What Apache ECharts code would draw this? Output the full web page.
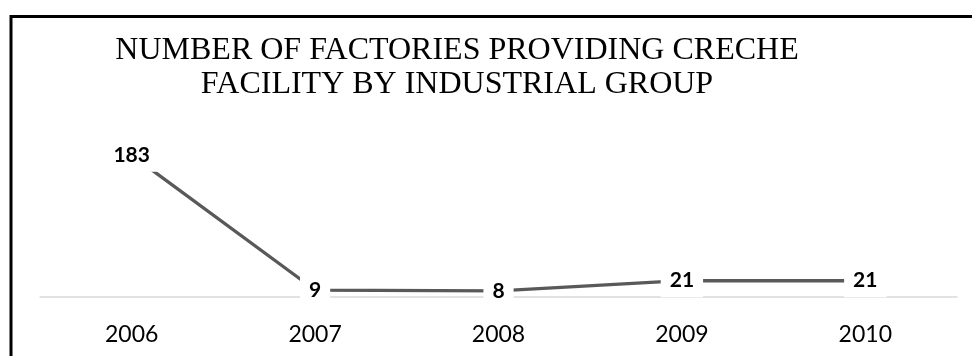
<!DOCTYPE html>
<html>
<head>
<meta charset="utf-8">
<script src="https://cdn.jsdelivr.net/npm/echarts@6/dist/echarts.min.js"></script>
<style>
html,body{margin:0;padding:0;background:#fff;}
#chart{width:972px;height:356px;}
</style>
</head>
<body>
<div id="chart"></div>
<script>
const categories = ['2006', '2007', '2008', '2009', '2010'];
const values = [183, 9, 8, 21, 21];
const titleLines = ['NUMBER OF FACTORIES PROVIDING CRECHE', 'FACILITY BY INDUSTRIAL GROUP'];

const chart = echarts.init(document.getElementById('chart'), null, {renderer: 'canvas'});
chart.setOption({
  animation: false,
  backgroundColor: '#fff',
  graphic: [
    {
      type: 'rect',
      shape: {x: 11, y: 16.5, width: 1000, height: 400},
      style: {fill: 'none', stroke: '#000', lineWidth: 3},
      silent: true
    },
    {
      type: 'text',
      x: 457,
      y: 67.5,
      style: {
        text: titleLines.join('\n'),
        font: '32px "Liberation Serif"',
        fill: '#000',
        align: 'center',
        verticalAlign: 'middle',
        lineHeight: 34
      }
    }
  ],
  grid: {left: 40, right: 15, top: 142, bottom: 59},
  xAxis: {
    type: 'category',
    data: categories,
    boundaryGap: true,
    axisLine: {show: true, lineStyle: {color: '#d9d9d9', width: 1.5}},
    axisTick: {show: false},
    axisLabel: {color: '#000', fontFamily: 'Lato', fontSize: 23, margin: 26}
  },
  yAxis: {
    type: 'value',
    min: 0,
    max: 200,
    show: false,
    splitLine: {show: false}
  },
  series: [{
    type: 'line',
    data: values,
    showSymbol: true,
    showAllSymbol: true,
    symbol: 'circle',
    symbolSize: 2,
    itemStyle: {color: '#595959'},
    lineStyle: {color: '#595959', width: 3.3},
    label: {
      show: true,
      position: 'inside',
      color: '#000',
      fontFamily: 'Lato',
      fontWeight: 'bold',
      fontSize: 21,
      backgroundColor: '#fff',
      padding: [6, 9]
    }
  }]
});
</script>
</body>
</html>
